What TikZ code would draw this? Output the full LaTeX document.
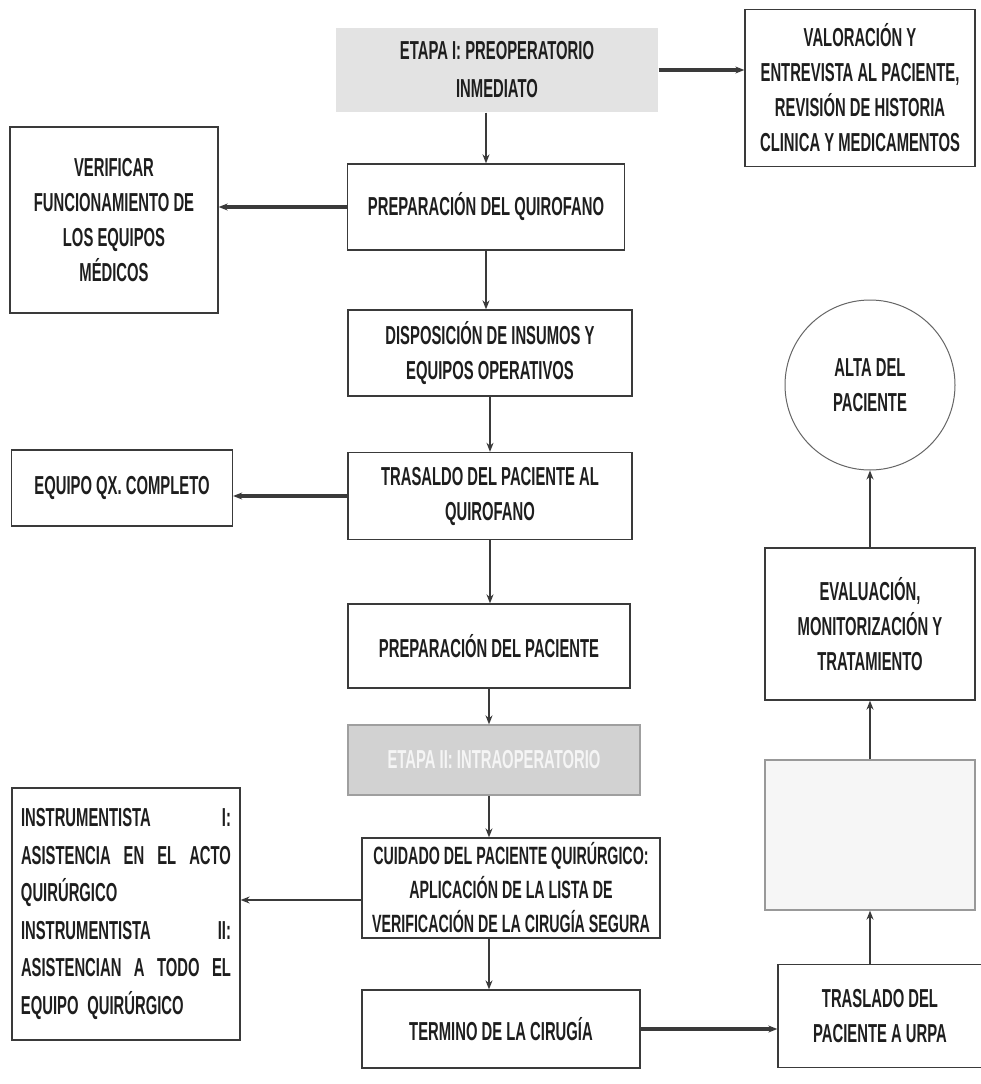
\documentclass[tikz,border=0pt]{standalone}
\usepackage{fontspec}
\setmainfont{Liberation Sans}[FakeStretch=0.57]
\usetikzlibrary{arrows.meta, positioning, calc}

\definecolor{linegray}{HTML}{3A3A3A}
\definecolor{inkgray}{HTML}{1E1E1E}

\begin{document}
\begin{tikzpicture}[
    x=1pt, y=-1pt,
    >={Stealth[length=9pt, width=7pt]}, % Set default arrow tip style
    stepbox/.style={draw=linegray, line width=1.3pt, fill=white, text=inkgray,
        align=center, inner sep=3pt, font=\bfseries\fontsize{26}{35}\selectfont},
    flow/.style={->, draw=linegray, line width=1.6pt},
    heavy/.style={->, draw=linegray, line width=3.2pt}
]

    % Page size like the sketch
    \useasboundingbox (0,0) rectangle (981,1084);

    % Stage I header (grey band, no border)
    \node[stepbox, draw=none, fill=gray!22, minimum width=322pt, minimum height=84pt,
        font=\bfseries\fontsize{26}{38}\selectfont] (etapaI) at (497,70)
        {ETAPA I: PREOPERATORIO\\INMEDIATO};

    % Boxes of the main column
    \node[stepbox, minimum width=277pt, minimum height=86pt] (prepQuir) at (486,207)
        {PREPARACIÓN DEL QUIROFANO};
    \node[stepbox, minimum width=284pt, minimum height=86pt] (disposicion) at (490,353)
        {DISPOSICIÓN DE INSUMOS Y\\EQUIPOS OPERATIVOS};
    \node[stepbox, minimum width=284pt, minimum height=87pt] (trasQuir) at (490,496)
        {TRASALDO DEL PACIENTE AL\\QUIROFANO};
    \node[stepbox, minimum width=282pt, minimum height=84pt] (prepPac) at (489,646)
        {PREPARACIÓN DEL PACIENTE};

    % Stage II header (grey with pale text)
    \node[stepbox, draw=gray!75, fill=gray!35, text=white!92!gray,
        minimum width=292pt, minimum height=70pt] (etapaII) at (494,760)
        {ETAPA II: INTRAOPERATORIO};

    \node[stepbox, minimum width=298pt, minimum height=100pt,
        font=\bfseries\fontsize{25}{34}\selectfont] (cuidado) at (511,888)
        {CUIDADO DEL PACIENTE QUIRÚRGICO:\\APLICACIÓN DE LA LISTA DE\\VERIFICACIÓN DE LA CIRUGÍA SEGURA};
    \node[stepbox, minimum width=278pt, minimum height=78pt] (termino) at (501,1029)
        {TERMINO DE LA CIRUGÍA};

    % Side boxes on the left
    \node[stepbox, minimum width=208pt, minimum height=186pt] (verificar) at (114,220)
        {VERIFICAR\\FUNCIONAMIENTO DE\\LOS EQUIPOS\\MÉDICOS};
    \node[stepbox, minimum width=221pt, minimum height=76pt] (equipoQx) at (122,488)
        {EQUIPO QX. COMPLETO};
    \node[stepbox, minimum width=228pt, minimum height=252pt, text width=210pt, align=left,
        font=\bfseries\fontsize{26}{37.6}\selectfont] (instrum) at (126,914)
        {INSTRUMENTISTA\hfill I:\\
         ASISTENCIA\hfill EN\hfill EL\hfill ACTO\\
         QUIRÚRGICO\\
         INSTRUMENTISTA\hfill II:\\
         ASISTENCIAN\hfill A\hfill TODO\hfill EL\\
         EQUIPO QUIRÚRGICO};

    % Boxes on the right
    \node[stepbox, minimum width=230pt, minimum height=157pt] (valoracion) at (860,88)
        {VALORACIÓN Y\\ENTREVISTA AL PACIENTE,\\REVISIÓN DE HISTORIA\\CLINICA Y MEDICAMENTOS};
    \node[stepbox, circle, draw=gray!80!black, line width=1pt, minimum size=170pt] (alta) at (870,385)
        {ALTA DEL\\PACIENTE};
    \node[stepbox, minimum width=210pt, minimum height=152pt] (evaluacion) at (870,624)
        {EVALUACIÓN,\\MONITORIZACIÓN Y\\TRATAMIENTO};
    \node[stepbox, draw=gray!80, fill=gray!7, minimum width=210pt, minimum height=150pt] (urpaBox) at (870,835) {};
    \node[stepbox, minimum width=204pt, minimum height=103pt] (trasUrpa) at (880,1016)
        {TRASLADO DEL\\PACIENTE A URPA};

    % Main column arrows
    \draw[flow] (etapaI.south -| prepQuir.north) -- (prepQuir.north);
    \draw[flow] (prepQuir.south) -- (prepQuir.south |- disposicion.north);
    \draw[flow] (disposicion.south) -- (trasQuir.north);
    \draw[flow] (trasQuir.south) -- (trasQuir.south |- prepPac.north);
    \draw[flow] (prepPac.south) -- (prepPac.south |- etapaII.north);
    \draw[flow] (etapaII.south -| prepPac.south) -- (prepPac.south |- cuidado.north);
    \draw[flow] (cuidado.south -| prepPac.south) -- (prepPac.south |- termino.north);

    % Side arrows
    \draw[heavy] (etapaI.east) -- (etapaI.east -| valoracion.west);
    \draw[heavy] (prepQuir.west) -- (prepQuir.west -| verificar.east);
    \draw[heavy] (trasQuir.west) -- (trasQuir.west -| equipoQx.east);
    \draw[flow, line width=1.2pt] ([yshift=-12pt]cuidado.west) -- ([yshift=-12pt]cuidado.west -| instrum.east);
    \draw[heavy] (termino.east) -- (termino.east -| trasUrpa.west);

    % Right column going up
    \draw[flow] (trasUrpa.north -| urpaBox.south) -- (urpaBox.south);
    \draw[flow] (urpaBox.north) -- (evaluacion.south);
    \draw[flow] (evaluacion.north) -- (alta.south);

\end{tikzpicture}
\end{document}
